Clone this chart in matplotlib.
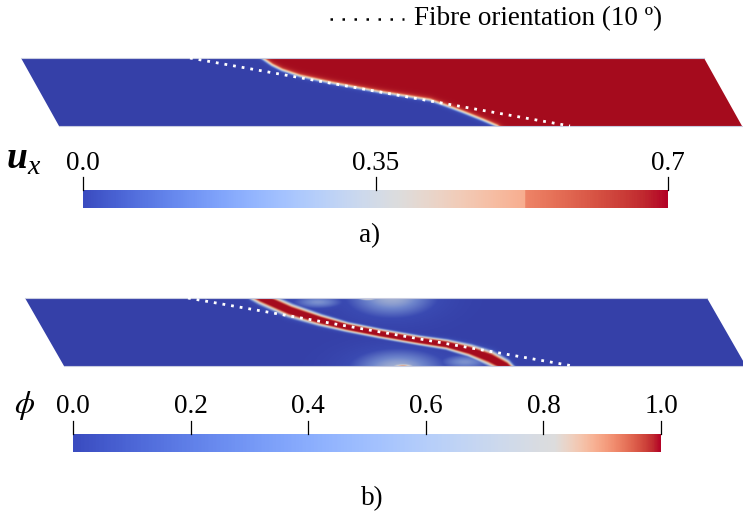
import numpy as np
import matplotlib
matplotlib.use("Agg")
import matplotlib.pyplot as plt
from matplotlib.colors import LinearSegmentedColormap, ListedColormap
from matplotlib.patches import Polygon

# ---------------- data ----------------
# panel outlines (pixel coordinates)
panel_a = [(21, 58), (704, 58), (742, 126), (59, 126)]
panel_b = [(25, 298), (707, 298), (746, 366), (64, 366)]

# fibre orientation lines (10 deg)
fibre_a_x = [190, 570]
fibre_a_y = [58, 126]
fibre_b_x = [188, 573]
fibre_b_y = [298, 366]

# u_x interface (blue = 0 left/below, red = 0.7 right/above)
iface_a_x = [258, 262, 272, 282, 300, 318, 332, 380, 430, 447, 463, 483, 497, 502]
iface_a_y = [54, 58, 65, 70, 76, 80, 83, 92, 100, 106, 112, 120, 126, 130]
ux_min, ux_max = 0.0, 0.7

# phi crack band centre line and half width
band_x = [255, 262, 290, 320, 347, 380, 420, 447, 470, 490, 505, 510]
band_y = [294, 298, 310.5, 320, 327, 333.5, 340.5, 344.5, 350.5, 358, 366, 370]
band_hw = [6.5, 6.5, 6.5, 5.5, 4.6, 4.5, 4.5, 4.8, 5.8, 7, 6.5, 5.5]

# light patches of the phi field
halo_x = [392, 398, 318, 465, 368, 403]
halo_y = [297, 368, 302, 362, 298, 366]
halo_rx = [52, 55, 30, 30, 12, 14]
halo_ry = [24, 22, 8, 9, 3, 3]
halo_amp = [0.56, 0.56, 0.48, 0.48, 0.86, 0.86]

# colour bars
ticks_a = [0.0, 0.35, 0.7]
ticklabels_a = ["0.0", "0.35", "0.7"]
ticks_b = [0.0, 0.2, 0.4, 0.6, 0.8, 1.0]
ticklabels_b = ["0.0", "0.2", "0.4", "0.6", "0.8", "1.0"]

# ---------------- figure ----------------
W, H = 743, 516
fig = plt.figure(figsize=(W / 100, H / 100), dpi=100)
ax = fig.add_axes([0, 0, 1, 1])
ax.set_xlim(0, W)
ax.set_ylim(H, 0)
ax.axis("off")

serif = ["Liberation Serif", "DejaVu Serif"]
FS = 19.5
plt.rcParams["mathtext.fontset"] = "stix"


def dense_curve(xs, ys, n=800):
    xs = np.asarray(xs, float)
    ys = np.asarray(ys, float)
    seg = np.hypot(np.diff(xs), np.diff(ys))
    s = np.concatenate([[0], np.cumsum(seg)])
    t = np.linspace(0, s[-1], n)
    return np.interp(t, s, xs), np.interp(t, s, ys), t, s


def grid_for(poly, step=0.5):
    px = [p[0] for p in poly]
    py = [p[1] for p in poly]
    x0, x1 = min(px) - 2, max(px) + 2
    y0, y1 = min(py) - 2, max(py) + 2
    gx = np.arange(x0, x1, step) + step / 2
    gy = np.arange(y0, y1, step) + step / 2
    X, Y = np.meshgrid(gx, gy)
    return X, Y, (gx[0] - step / 2, gx[-1] + step / 2, gy[-1] + step / 2, gy[0] - step / 2)


def min_dist(X, Y, cx, cy, chunk=4000):
    P = np.stack([X.ravel(), Y.ravel()], axis=1)
    out = np.empty(len(P))
    idx = np.empty(len(P), dtype=int)
    for i in range(0, len(P), chunk):
        p = P[i:i + chunk]
        d2 = (p[:, 0:1] - cx[None, :]) ** 2 + (p[:, 1:2] - cy[None, :]) ** 2
        k = np.argmin(d2, axis=1)
        idx[i:i + chunk] = k
        out[i:i + chunk] = np.sqrt(d2[np.arange(len(p)), k])
    return out.reshape(X.shape), idx.reshape(X.shape)


# ---- field colormaps (rendered, shaded) ----
field_cmap_a = LinearSegmentedColormap.from_list(
    "fa", ["#3540a8", "#3c4cb4", "#7f9de0", "#e0d8cc", "#f0b890", "#c83a34", "#a50c1e"])
field_cmap_b = LinearSegmentedColormap.from_list(
    "fb", [(0.0, "#3540a8"), (0.25, "#3a4ab2"), (0.45, "#6f86cc"),
           (0.58, "#aab6d2"), (0.75, "#d8d2cc"), (0.88, "#e08a6a"), (1.0, "#a50c1e")])

# ---- panel a field ----
X, Y, ext = grid_for(panel_a)
cx, cy, _, _ = dense_curve(iface_a_x, iface_a_y)
d, _ = min_dist(X, Y, cx, cy)
xi = np.interp(Y, iface_a_y, iface_a_x)
sgn = np.where(X >= xi, 1.0, -1.0)
ux = ux_min + (ux_max - ux_min) / (1 + np.exp(-sgn * d / 1.4))
im = ax.imshow(ux, extent=ext, origin="upper", cmap=field_cmap_a,
               vmin=ux_min, vmax=ux_max, interpolation="bilinear", aspect="auto")
pa = Polygon(panel_a, closed=True, transform=ax.transData, fc="none", ec="none")
ax.add_patch(pa)
im.set_clip_path(pa)
ax.plot([panel_a[0][0], panel_a[1][0]], [panel_a[0][1], panel_a[1][1]], color="#c8cce0", lw=0.8)
ax.plot([panel_a[3][0], panel_a[2][0]], [panel_a[3][1], panel_a[2][1]], color="#c8cce0", lw=0.8)

# ---- panel b field ----
X, Y, ext = grid_for(panel_b)
cx, cy, t, s = dense_curve(band_x, band_y)
hw = np.interp(t, s, band_hw)
d, k = min_dist(X, Y, cx, cy)
r = d / hw[k]
phi = 1.0 / (1 + np.exp((r - 1.0) * 4.0))
phi = np.clip(phi * 1.1, 0, 1)
for hx, hy, rx, ry, am in zip(halo_x, halo_y, halo_rx, halo_ry, halo_amp):
    g = am * np.exp(-(((X - hx) / rx) ** 2 + ((Y - hy) / ry) ** 2))
    phi = np.maximum(phi, g)
im2 = ax.imshow(phi, extent=ext, origin="upper", cmap=field_cmap_b,
                vmin=0, vmax=1, interpolation="bilinear", aspect="auto")
pb = Polygon(panel_b, closed=True, transform=ax.transData, fc="none", ec="none")
ax.add_patch(pb)
im2.set_clip_path(pb)
ax.plot([panel_b[0][0], panel_b[1][0]], [panel_b[0][1], panel_b[1][1]], color="#c8cce0", lw=0.8)
ax.plot([panel_b[3][0], panel_b[2][0]], [panel_b[3][1], panel_b[2][1]], color="#c8cce0", lw=0.8)

# fibre lines
for fx, fy in [(fibre_a_x, fibre_a_y), (fibre_b_x, fibre_b_y)]:
    ax.plot(fx, fy, color="white", lw=2.0, linestyle=(0, (1, 2.15)),
            solid_capstyle="butt", dash_capstyle="butt")

# legend
ax.plot([330, 404], [19, 19], color="black", lw=1.8, linestyle=(0, (1, 3.8)))
ax.text(414, 19, "Fibre orientation (10 º)", family=serif, fontsize=FS,
        ha="left", va="center")

# ---- colour bars ----
cw = plt.get_cmap("coolwarm")
f = np.linspace(0, 1, 512)
step = 0.757
g_a = np.where(f < step, f * 0.70 / step, 0.80 + (f - step) / (1 - step) * 0.20)
cbar_cmap_a = ListedColormap(cw(g_a))
mid = 0.82
g_b = np.where(f < mid, 0.5 * f / mid, 0.5 + 0.5 * (f - mid) / (1 - mid))
cbar_cmap_b = ListedColormap(cw(g_b))

grad = np.linspace(0, 1, 512)[None, :]


def colorbar(x0, x1, y0, y1, cmap, vmin, vmax, ticks, labels, tick_top, label_y):
    ax.imshow(grad, extent=(x0, x1, y1, y0), origin="upper", cmap=cmap,
              aspect="auto", interpolation="bilinear")
    for tv, tl in zip(ticks, labels):
        xp = x0 + (tv - vmin) / (vmax - vmin) * (x1 - x0)
        ax.plot([xp, xp], [tick_top, y0], color="black", lw=0.9)
        ax.text(xp, label_y, tl, family=serif, fontsize=FS, ha="center",
                va="baseline")


colorbar(83, 668, 190, 208, cbar_cmap_a, ux_min, ux_max, ticks_a, ticklabels_a, 177, 170)
colorbar(73, 661, 434, 452, cbar_cmap_b, 0.0, 1.0, ticks_b, ticklabels_b, 421, 413)

# variable labels
ax.text(7, 168, "u", family=serif, fontsize=27, fontweight="bold",
        fontstyle="italic", ha="left", va="baseline")
ax.text(27, 174, "x", family=serif, fontsize=20, fontstyle="italic",
        ha="left", va="baseline")
ax.text(25, 406, r"$\phi$", fontsize=23, ha="center", va="center")

# panel labels
ax.text(370, 236, "a)", family=serif, fontsize=FS, ha="center", va="center")
ax.text(372, 499, "b)", family=serif, fontsize=FS, ha="center", va="center")

fig.savefig("out.png", dpi=100)
